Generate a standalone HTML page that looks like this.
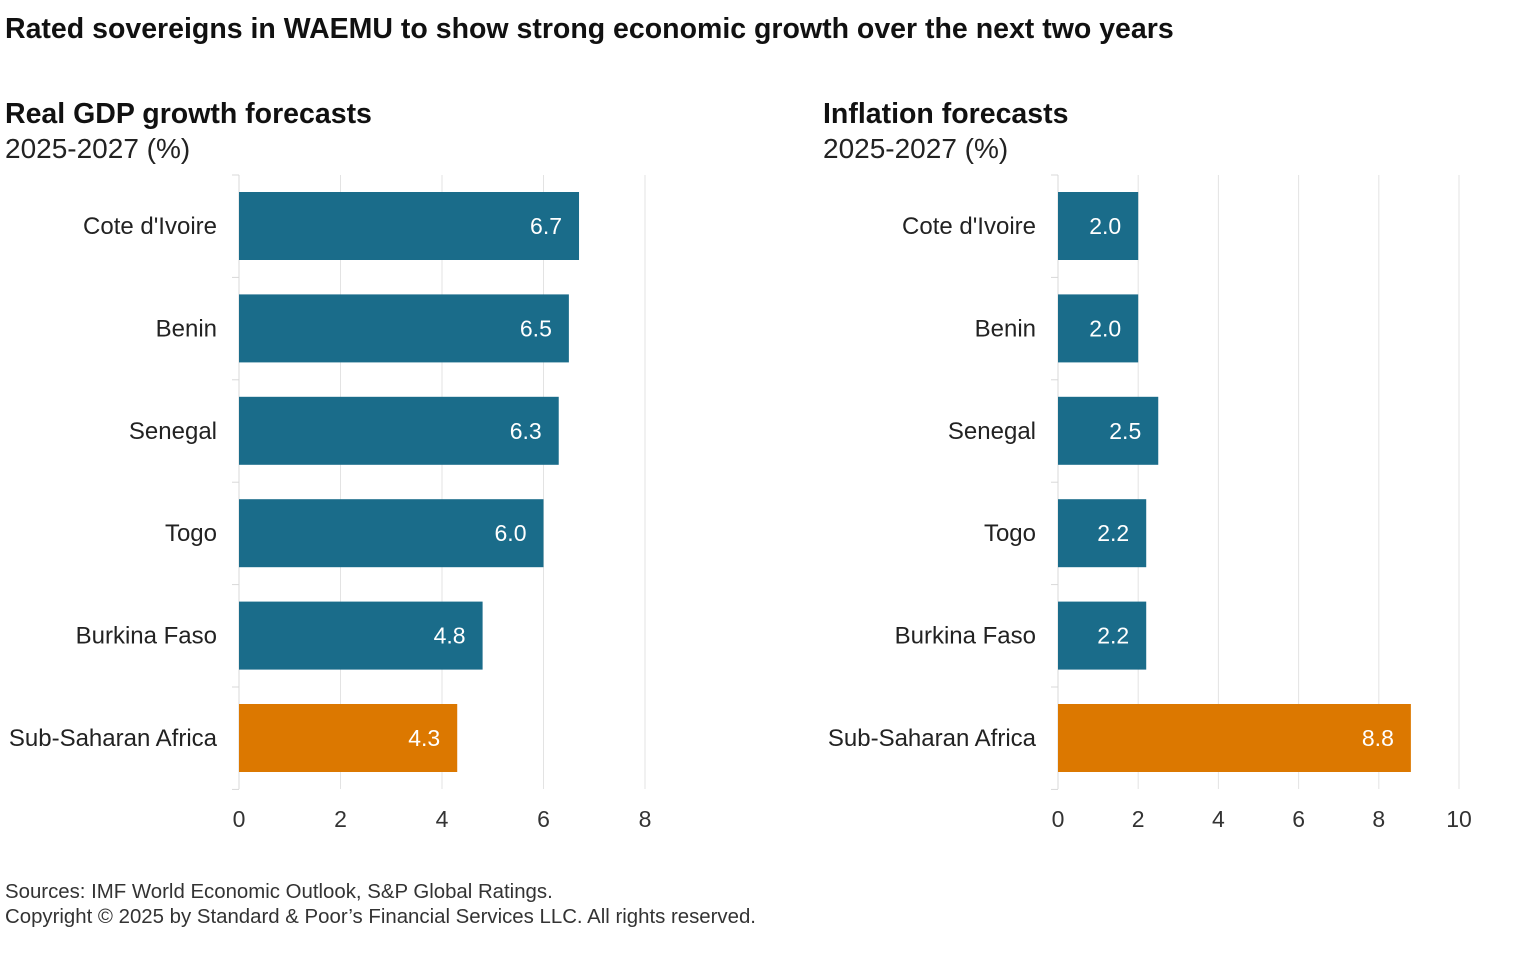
<!DOCTYPE html>
<html><head><meta charset="utf-8"><style>
body{margin:0;background:#fff;width:1528px;height:954px;overflow:hidden;font-family:"Liberation Sans",sans-serif}
svg text{font-family:"Liberation Sans",sans-serif}
</style></head><body>
<svg id="svg" width="1528" height="954">
<text x="5" y="38" font-size="28.5" font-weight="bold" fill="#111">Rated sovereigns in WAEMU to show strong economic growth over the next two years</text>
<text x="5" y="123" font-size="28.5" font-weight="bold" fill="#111">Real GDP growth forecasts</text>
<text x="5" y="158" font-size="28" fill="#222">2025-2027 (%)</text>
<text x="823" y="123" font-size="28.5" font-weight="bold" fill="#111">Inflation forecasts</text>
<text x="823" y="158" font-size="28" fill="#222">2025-2027 (%)</text>
<text x="5" y="898" font-size="20.4" fill="#333">Sources: IMF World Economic Outlook, S&amp;P Global Ratings.</text>
<text x="5" y="923" font-size="20.4" fill="#333">Copyright © 2025 by Standard &amp; Poor’s Financial Services LLC. All rights reserved.</text>
</svg>
<script>
const categories=["Cote d'Ivoire","Benin","Senegal","Togo","Burkina Faso","Sub-Saharan Africa"];
const gdpValues=[6.7,6.5,6.3,6.0,4.8,4.3];
const inflationValues=[2.0,2.0,2.5,2.2,2.2,8.8];
const gdpTicks=[0,2,4,6,8];
const inflationTicks=[0,2,4,6,8,10];
const svg=document.getElementById('svg');
const NS='http://www.w3.org/2000/svg';
function mk(tag,attrs,parent){const e=document.createElementNS(NS,tag);for(const k in attrs)e.setAttribute(k,attrs[k]);(parent||svg).appendChild(e);return e;}
function panel(prefix,x0,unit,labelRight,values,ticks){
  const g=mk('g',{});
  
  
  const xs=v=>x0+v*unit;
  const top=175,bottom=789,pitch=102.4,bh=68,first=192;
  ticks.forEach(t=>{
    const l=mk('line',{x1:xs(t),x2:xs(t),y1:top,y2:bottom,stroke:'#e3e3e3','stroke-width':1},g);
    
    
    const tx=mk('text',{x:xs(t),y:827,'font-size':23,fill:'#333','text-anchor':'middle'},g);
    tx.textContent=t;
    
    
  });
  const ax=mk('line',{x1:x0,x2:x0,y1:top,y2:bottom,stroke:'#d8d8d8','stroke-width':1},g);
  
  
  for(let i=0;i<=categories.length;i++){
    const y=top+i*pitch;
    const tk=mk('line',{x1:x0-7,x2:x0,y1:y,y2:y,stroke:'#d8d8d8'},g);
    
    
  }
  categories.forEach((c,i)=>{
    const y=first+i*pitch;
    const col=i===categories.length-1?'#dc7800':'#1a6c8a';
    const r=mk('rect',{x:x0,y:y,width:xs(values[i])-x0,height:bh,fill:col},g);
    
    
    const lt=mk('text',{x:xs(values[i])-17,y:y+bh/2+8,'font-size':23,fill:'#fff','text-anchor':'end'},g);
    lt.textContent=values[i].toFixed(1);
    
    
    const ct=mk('text',{x:labelRight,y:y+bh/2+8,'font-size':24,fill:'#222','text-anchor':'end'},g);
    ct.textContent=c;
    
    
  });
}
panel('gdp',239,50.75,217,gdpValues,gdpTicks);
panel('inflation',1058,40.1,1036,inflationValues,inflationTicks);
</script>
</body></html>
